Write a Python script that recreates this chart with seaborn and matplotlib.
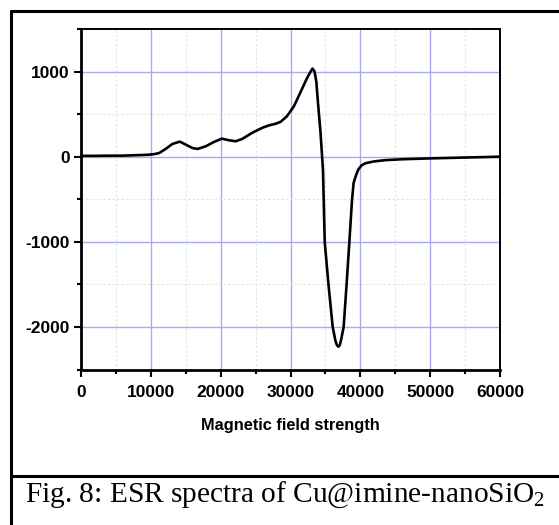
import matplotlib
matplotlib.use("Agg")
import matplotlib.pyplot as plt
from matplotlib.lines import Line2D
from matplotlib.ticker import MultipleLocator
import seaborn as sns
import pandas as pd

# ---- data ----
field = [0, 2000, 4000, 6000, 8000, 9500, 10500, 11200, 12100, 13100, 14150,
         15000, 15950, 16700, 17860, 19040, 20150, 21200, 22150, 23100, 24500,
         25950, 27000, 27800, 28600, 29500, 30500, 31400, 32400, 32850, 33150,
         33450, 33700, 33950, 34300, 34650, 34900, 35430, 36040, 36430, 36650,
         36860, 37050, 37250, 37610, 38040, 38430, 38810, 39040, 39400, 39710,
         40200, 40810, 42000, 43670, 46000, 50000, 55000, 60000]
signal = [10, 10, 12, 12, 18, 22, 30, 43, 90, 150, 177,
          142, 102, 91, 122, 173, 212, 193, 181, 209, 280,
          339, 370, 385, 410, 476, 594, 752, 929, 995, 1035,
          1000, 880, 620, 280, -153, -1000, -1492, -2000, -2161, -2215,
          -2232, -2215, -2150, -2000, -1492, -1000, -508, -307, -215, -150,
          -100, -75, -55, -40, -30, -20, -10, 0]
x_label = "Magnetic field strength"
caption = r"Fig. 8: ESR spectra of Cu@imine-nanoSiO$_\mathrm{2}$"

df = pd.DataFrame({"field": field, "signal": signal})

sns.set_theme(style="white")
plt.rcParams["font.family"] = ["Liberation Sans", "DejaVu Sans"]
plt.rcParams["mathtext.fontset"] = "custom"
plt.rcParams["mathtext.rm"] = "Liberation Serif"
plt.rcParams["axes.unicode_minus"] = False
plt.rcParams["text.color"] = "black"
plt.rcParams["axes.labelcolor"] = "black"
plt.rcParams["xtick.color"] = "black"
plt.rcParams["ytick.color"] = "black"

fig = plt.figure(figsize=(5.59, 5.25), dpi=100)
fig.patch.set_facecolor("white")
ax = fig.add_axes([81 / 559, 1 - 369.5 / 525, (500 - 81) / 559, (369.5 - 29) / 525])

sns.lineplot(data=df, x="field", y="signal", ax=ax, color="black", linewidth=1.9,
             sort=False, estimator=None)

ax.set_xlim(0, 60000)
ax.set_ylim(-2500, 1500)
ax.xaxis.set_major_locator(MultipleLocator(10000))
ax.xaxis.set_minor_locator(MultipleLocator(5000))
ax.yaxis.set_major_locator(MultipleLocator(1000))
ax.yaxis.set_minor_locator(MultipleLocator(500))

ax.grid(True, which="major", color="#a9a9f2", linewidth=1.0)
ax.grid(True, which="minor", color="#d6ead6", linewidth=0.8, linestyle=(0, (2, 2)))
ax.set_axisbelow(True)

for side, sp in ax.spines.items():
    sp.set_color("black")
    sp.set_linewidth(1.4)
ax.spines["left"].set_linewidth(2.0)
ax.spines["bottom"].set_linewidth(2.0)

ax.tick_params(axis="both", which="major", direction="out", length=5, width=1.5,
               colors="black", labelsize=12.5)
ax.tick_params(axis="both", which="minor", direction="out", length=3, width=1.5,
               colors="black")
ax.tick_params(axis="x", which="both", bottom=True, top=False, pad=6)
ax.tick_params(axis="y", which="both", left=True, right=False, pad=3)
for lab in ax.get_xticklabels() + ax.get_yticklabels():
    lab.set_fontweight("bold")

ax.set_xlabel(x_label, fontsize=11.8, fontweight="bold", labelpad=13, color="black")
ax.set_ylabel("")

# outer frame and caption box
lw = 2.2
fig.add_artist(Line2D([11 / 559, 1.0], [1 - 11 / 525, 1 - 11 / 525],
                      transform=fig.transFigure, color="black", linewidth=lw))
fig.add_artist(Line2D([11 / 559, 11 / 559], [0.0, 1 - 11 / 525],
                      transform=fig.transFigure, color="black", linewidth=lw))
fig.add_artist(Line2D([11 / 559, 1.0], [1 - 476 / 525, 1 - 476 / 525],
                      transform=fig.transFigure, color="black", linewidth=lw))

fig.text(25 / 559, 1 - 501.5 / 525, caption, family=["Liberation Serif", "DejaVu Serif"],
         fontsize=21.2, ha="left", va="baseline", color="black")

fig.savefig("out.png", dpi=100, facecolor="white")
